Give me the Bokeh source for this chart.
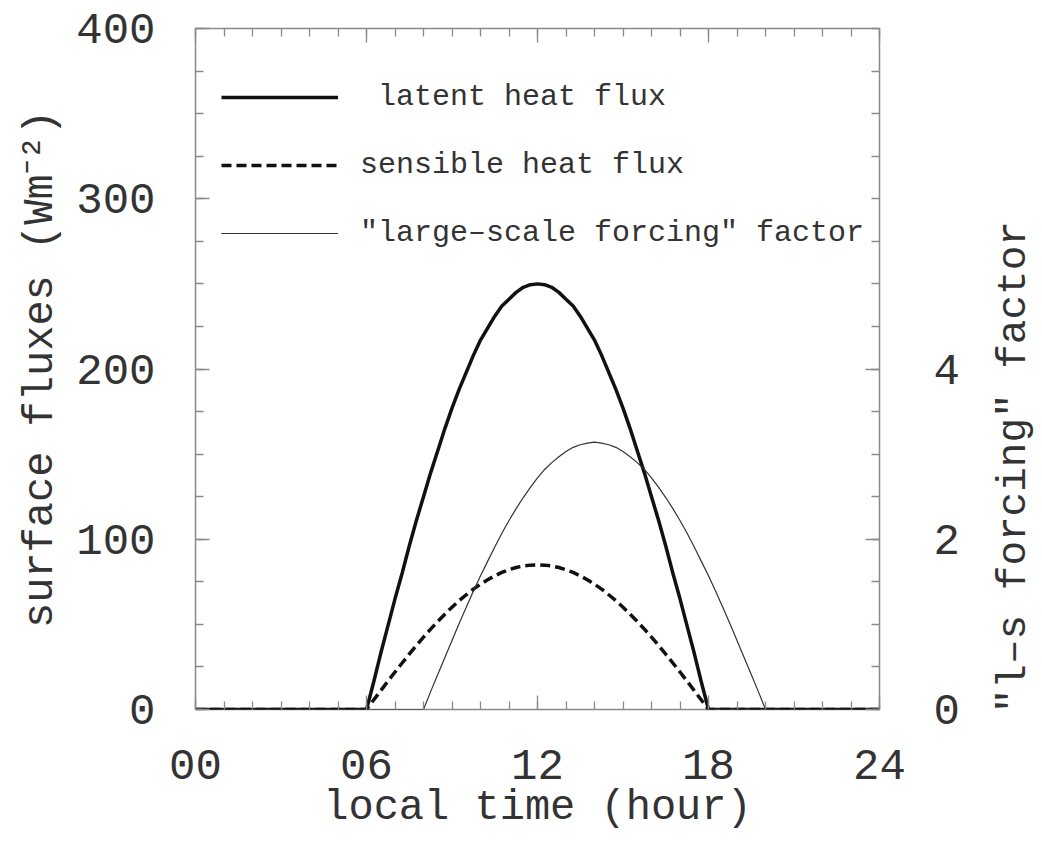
import math
from bokeh.plotting import figure
from bokeh.layouts import row
from bokeh.models import (Range1d, LinearAxis, FixedTicker, Legend, LegendItem)
from bokeh.core.properties import value
from bokeh.embed import file_html
from bokeh.resources import INLINE

# ---- data ----
flux_hours = [0, 6, 6.25, 6.5, 6.75, 7, 7.25, 7.5, 7.75, 8, 8.25, 8.5, 8.75,
              9, 9.25, 9.5, 9.75, 10, 10.25, 10.5, 10.75, 11, 11.25, 11.5, 11.75,
              12, 12.25, 12.5, 12.75, 13, 13.25, 13.5, 13.75, 14, 14.25, 14.5, 14.75,
              15, 15.25, 15.5, 15.75, 16, 16.25, 16.5, 16.75, 17, 17.25, 17.5, 17.75,
              18, 24]

latent = [0, 0, 16, 33, 49, 65, 80, 96, 111, 125, 139, 152, 165,
          177, 188, 198, 208, 217, 224, 231, 237, 241, 245, 248, 249.5,
          250, 249.5, 248, 245, 241, 237, 231, 224, 217, 208, 198, 188,
          177, 165, 152, 139, 125, 111, 96, 80, 65, 49, 33, 16,
          0, 0]

sensible = [0, 0, 5.6, 11.1, 16.6, 22, 27.3, 32.5, 37.6, 42.5, 47.2, 51.7, 56,
            60.1, 63.9, 67.4, 70.7, 73.6, 76.2, 78.5, 80.5, 82.1, 83.4, 84.3, 84.8,
            85, 84.8, 84.3, 83.4, 82.1, 80.5, 78.5, 76.2, 73.6, 70.7, 67.4, 63.9,
            60.1, 56, 51.7, 47.2, 42.5, 37.6, 32.5, 27.3, 22, 16.6, 11.1, 5.6,
            0, 0]

forcing_hours = [0, 8, 8.25, 8.5, 8.75, 9, 9.25, 9.5, 9.75, 10, 10.25, 10.5, 10.75,
                 11, 11.25, 11.5, 11.75, 12, 12.25, 12.5, 12.75, 13, 13.25, 13.5, 13.75,
                 14, 14.25, 14.5, 14.75, 15, 15.25, 15.5, 15.75, 16, 16.25, 16.5, 16.75,
                 17, 17.25, 17.5, 17.75, 18, 18.25, 18.5, 18.75, 19, 19.25, 19.5, 19.75,
                 20, 24]

forcing = [0, 0, 0.21, 0.41, 0.61, 0.81, 1.01, 1.2, 1.39, 1.57, 1.74, 1.91, 2.07,
           2.22, 2.36, 2.49, 2.61, 2.72, 2.82, 2.9, 2.97, 3.03, 3.08, 3.11, 3.13,
           3.14, 3.13, 3.11, 3.08, 3.03, 2.97, 2.9, 2.82, 2.72, 2.61, 2.49, 2.36,
           2.22, 2.07, 1.91, 1.74, 1.57, 1.39, 1.2, 1.01, 0.81, 0.61, 0.41, 0.21,
           0, 0]

x_ticks = [0, 6, 12, 18, 24]
x_tick_labels = {0: "00", 6: "06", 12: "12", 18: "18", 24: "24"}
y_ticks = [0, 100, 200, 300, 400]
f_ticks = [0, 2, 4]
right_title = "\"l\u2013s forcing\" factor"

FONT = "Liberation Mono"
TXT = "#333333"
GRID = "#8a8a8a"

p = figure(width=990, height=860, output_backend="svg", toolbar_location=None,
           x_range=Range1d(0, 24), y_range=Range1d(0, 400),
           min_border_left=195, min_border_right=111, min_border_top=28, min_border_bottom=151)
p.extra_y_ranges = {"f": Range1d(0, 8)}
p.grid.visible = False
p.outline_line_color = GRID
p.outline_line_width = 1.5
p.background_fill_color = "white"
p.border_fill_color = "white"

r_lat = p.line(flux_hours, latent, line_color="#111111", line_width=3.5)
r_sen = p.line(flux_hours, sensible, line_color="#111111", line_width=3.5, line_dash="10 5")
r_for = p.line(forcing_hours, forcing, line_color="#333333", line_width=1.2, y_range_name="f")

def style_axis(ax, font_size="44px", standoff=35):
    ax.axis_line_color = None
    ax.major_tick_in = 14
    ax.major_tick_out = 0
    ax.minor_tick_in = 8
    ax.minor_tick_out = 0
    ax.major_tick_line_color = GRID
    ax.minor_tick_line_color = GRID
    ax.major_tick_line_width = 1.3
    ax.minor_tick_line_width = 1.3
    ax.major_label_text_font = FONT
    ax.major_label_text_font_size = font_size
    ax.major_label_text_color = TXT
    ax.major_label_standoff = standoff
    ax.axis_label_text_font = FONT
    ax.axis_label_text_font_size = "42px"
    ax.axis_label_text_font_style = "normal"
    ax.axis_label_text_color = TXT

# bottom axis
xa = p.xaxis[0]
style_axis(xa, standoff=40)
xa.ticker = FixedTicker(ticks=x_ticks, minor_ticks=list(range(0, 25)))
xa.major_label_overrides = x_tick_labels
xa.axis_label = "local time (hour)"
xa.axis_label_standoff = 2

# left axis
ya = p.yaxis[0]
style_axis(ya, standoff=40)
ya.ticker = FixedTicker(ticks=y_ticks, minor_ticks=list(range(0, 401, 25)))
ya.axis_label = "surface fluxes (Wm\u207b\u00b2)"
ya.axis_label_standoff = 8

# top axis (ticks only)
ta = LinearAxis()
style_axis(ta, font_size="0px", standoff=0)
ta.ticker = FixedTicker(ticks=x_ticks, minor_ticks=list(range(0, 25)))
ta.major_label_text_color = None
p.add_layout(ta, "above")

# right axis
ra = LinearAxis(y_range_name="f")
style_axis(ra, standoff=54)
ra.ticker = FixedTicker(ticks=f_ticks, minor_ticks=[i * 0.5 for i in range(0, 17)])
p.add_layout(ra, "right")

legend = Legend(items=[
    LegendItem(label="\u00a0latent heat flux", renderers=[r_lat]),
    LegendItem(label="sensible heat flux", renderers=[r_sen]),
    LegendItem(label="\"large\u2013scale forcing\" factor", renderers=[r_for]),
], location=(26, 456), orientation="vertical")
legend.border_line_color = None
legend.background_fill_alpha = 0
legend.padding = 10
legend.margin = 0
legend.spacing = 28
legend.glyph_width = 117
legend.glyph_height = 40
legend.label_height = 40
legend.label_standoff = 22
legend.label_text_font = FONT
legend.label_text_font_size = "30px"
legend.label_text_color = TXT
p.add_layout(legend, "center")

# narrow strip on the right carrying the right-axis title (reads bottom-to-top)
p2 = figure(width=52, height=860, output_backend="svg", toolbar_location=None,
            x_range=Range1d(0, 52), y_range=Range1d(0, 860),
            min_border_left=0, min_border_right=0, min_border_top=0, min_border_bottom=0)
p2.axis.visible = False
p2.grid.visible = False
p2.outline_line_color = None
p2.background_fill_color = "white"
p2.border_fill_color = "white"
p2.text(x=[23], y=[306], text=[right_title], angle=math.pi / 2,
        text_align="center", text_baseline="middle",
        text_font=value(FONT), text_font_size="41px", text_color=TXT)

layout = row(p, p2, spacing=0)
open("out.html", "w").write(file_html(layout, INLINE))
